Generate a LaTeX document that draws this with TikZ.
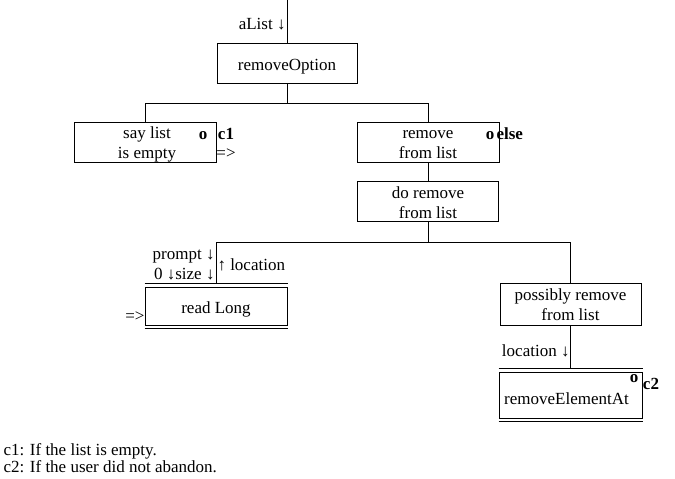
\documentclass[tikz,border=0pt]{standalone}
\usepackage{fontspec}
\setmainfont{Liberation Serif}
\newcommand\onel[1]{\raisebox{-3.5pt}[\height][\depth]{#1}}
\newcommand\twol[2]{\raisebox{-2.5pt}[\height][\depth]{\begin{tabular}{@{}c@{}}#1\\#2\end{tabular}}}
\begin{document}
\begin{tikzpicture}[x=1pt,y=-1pt,line width=1pt,
  every node/.style={font=\fontsize{17}{20}\selectfont,inner sep=0pt},
  box/.style={draw,minimum width=#1},
  boldmark/.style={font=\fontsize{17}{20}\selectfont\bfseries}]
\useasboundingbox (0,0) rectangle (675,479);
% nodes
\coordinate (top) at (287,0);
\node[box=140,minimum height=40] (ro) at (287,63) {\onel{removeOption}};
\node[box=142,minimum height=38] (sl) at (145,142) {\hspace*{4pt}\twol{say list}{is empty}};
\node[box=142,minimum height=38] (rm) at (428,142) {\twol{remove}{from list}};
\node[box=141,minimum height=39] (dr) at (428,201.5) {\twol{do remove}{from list}};
\node[box=142,minimum height=38] (rl) at (216,306) {\onel{read Long}};
\node[box=141,minimum height=42] (pr) at (570.5,304) {\twol{possibly remove}{from list}};
\node[box=143,minimum height=46] (re) at (570.5,395) {\hspace*{-8pt}\onel{removeElementAt}};
% double edges
\draw ([yshift=3pt]rl.north west) -- ([yshift=3pt]rl.north east);
\draw ([yshift=-3pt]rl.south west) -- ([yshift=-3pt]rl.south east);
\draw ([yshift=3pt]re.north west) -- ([yshift=3pt]re.north east);
\draw ([yshift=-3pt]re.south west) -- ([yshift=-3pt]re.south east);
% connectors
\draw (top) -- (ro.north);
\draw (ro.south) -- ++(0,20) -| (sl.north);
\draw (ro.south) -- ++(0,20) -| (rm.north);
\draw (rm.south) -- (dr.north);
\draw (dr.south) -- ++(0,20) -| ([yshift=3pt]rl.north);
\draw (dr.south) -- ++(0,20) -| (pr.north);
\draw (pr.south) -- ([yshift=3pt]re.north);
% labels
\node[anchor=east] (la) at (286,24) {aList ↓};
\node[boldmark] (o1) at (203,136) {o};
\node[boldmark] (c1) at (226,134) {c1};
\node (ar1) at (226,154) {=>};
\node[boldmark] (o2) at (490,136) {o};
\node[boldmark,anchor=west] (el) at (496,134) {else};
\node[anchor=east] (lp) at (215,257) {prompt ↓};
\node[anchor=east] (ls) at (215,274) {0 ↓size ↓};
\node[anchor=west] (ll) at (217,265) {↑ location};
\node[anchor=east] (ar2) at (145,317) {=>};
\node[anchor=east] (ll2) at (570,351) {location ↓};
\node[boldmark] (o3) at (634,379) {o};
\node[boldmark] (c2) at (651,384) {c2};
\node[anchor=west] (f1) at (3,451) {c1: If the list is empty.};
\node[anchor=west] (f2) at (3,467) {c2: If the user did not abandon.};
\end{tikzpicture}
\end{document}
